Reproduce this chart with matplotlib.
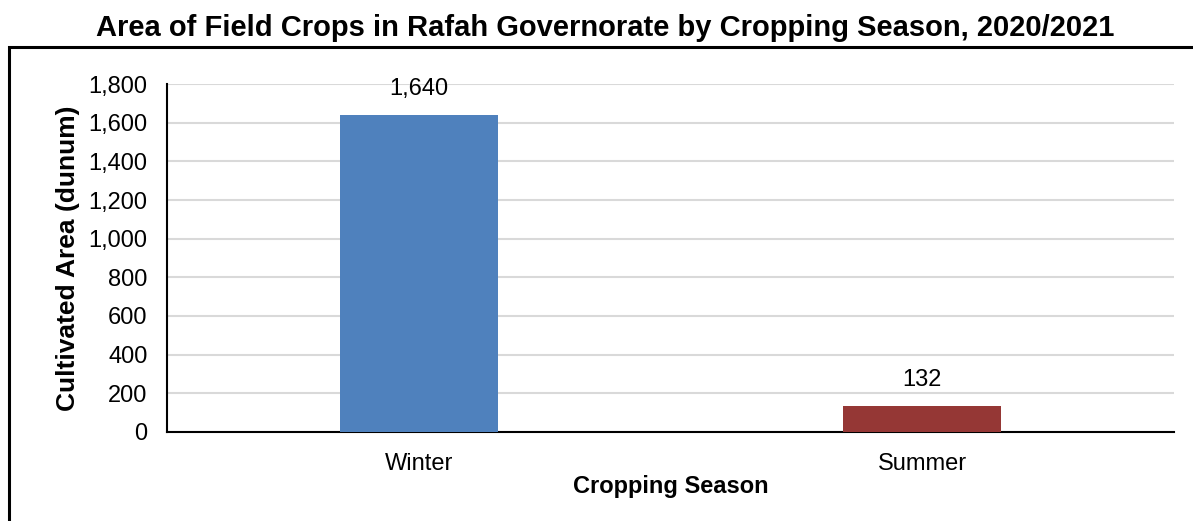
import matplotlib
matplotlib.use("Agg")
import matplotlib.pyplot as plt
from matplotlib.patches import Rectangle

plt.rcParams['font.family'] = ['Liberation Sans', 'DejaVu Sans']

categories = ["Winter", "Summer"]
values = [1640, 132]
colors = ["#4F81BD", "#953735"]
yticks = [0, 200, 400, 600, 800, 1000, 1200, 1400, 1600, 1800]

W, H = 1193, 521
fig = plt.figure(figsize=(W / 100, H / 100), dpi=100)
ax = fig.add_axes([167 / W, 1 - 432 / H, (1174 - 167) / W, (432 - 84) / H])

x = list(range(len(categories)))
bars = ax.bar(x, values, width=0.314, color=colors, zorder=3)
for xi, v in zip(x, values):
    ax.annotate(f"{v:,}", (xi, v), xytext=(0, 11), textcoords="offset points",
                ha="center", va="bottom", fontsize=17)

ax.set_xlim(-0.5, len(categories) - 0.5)
ax.set_ylim(0, 1800)
ax.set_yticks(yticks)
ax.set_yticklabels([f"{t:,}" for t in yticks], fontsize=17)
ax.set_xticks(x)
ax.set_xticklabels(categories, fontsize=17)
ax.tick_params(axis="y", length=0, pad=14)
ax.tick_params(axis="x", length=0, pad=15)
ax.grid(axis="y", color="#D9D9D9", linewidth=1.5, zorder=0)
for s in ["top", "right"]:
    ax.spines[s].set_visible(False)
for s in ["left", "bottom"]:
    ax.spines[s].set_color("black")
    ax.spines[s].set_linewidth(1.5)

ax.set_xlabel("Cropping Season", fontsize=17, fontweight="bold", labelpad=0)
ax.set_ylabel("Cultivated Area (dunum)", fontsize=19, fontweight="bold", labelpad=6)

fig.text(605 / W, 1 - 28 / H, "Area of Field Crops in Rafah Governorate by Cropping Season, 2020/2021",
         ha="center", va="center", fontsize=21, fontweight="bold")

fig.patches.append(Rectangle((9 / W, -0.01), 1.02, 1 - 46.5 / H + 0.01, transform=fig.transFigure,
                             fill=False, edgecolor="black", linewidth=2.2))

fig.savefig("out.png", dpi=100)
